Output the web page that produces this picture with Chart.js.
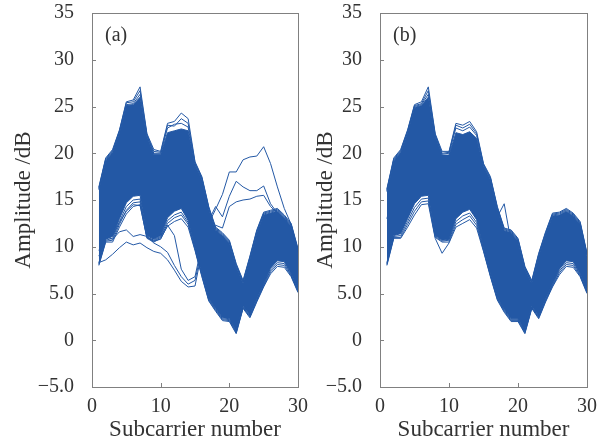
<!DOCTYPE html>
<html>
<head>
<meta charset="utf-8">
<script src="https://cdn.jsdelivr.net/npm/chart.js@4"></script>
<style>
  html, body { margin: 0; padding: 0; background: #fff; }
  #wrap { position: relative; width: 609px; height: 444px; }
  .pane { position: absolute; top: 0; height: 444px; }
  #paneA { left: 0; width: 312px; }
  #paneB { left: 302px; width: 307px; }
</style>
</head>
<body>
<div id="wrap">
  <div class="pane" id="paneA"><canvas id="chartA"></canvas></div>
  <div class="pane" id="paneB"><canvas id="chartB"></canvas></div>
</div>
<script>
var subcarriers = [1,2,3,4,5,6,7,8,9,10,11,12,13,14,15,16,17,18,19,20,21,22,23,24,25,26,27,28,29,30];
var yTicks = [-5, 0, 5, 10, 15, 20, 25, 30, 35];
var xTicks = [0, 10, 20, 30];

// ---- panel (a): filled band edges, edge curves, stray packets ----
var bandTopA    = [16.1,19.2,20.1,22.2,25.1,25.2,26.0,21.8,19.9,19.9,22.2,22.4,22.6,22.4,18.8,17.2,14.0,11.8,11.2,10.4,7.9,6.1,8.7,11.5,13.4,13.6,13.8,13.1,12.2,9.5];
var bandBottomA = [8.3,10.8,11.1,13.0,14.7,15.4,15.5,11.2,10.8,11.2,13.1,13.8,14.1,12.8,9.9,7.1,4.5,3.4,2.4,2.3,1.0,3.6,2.7,4.4,6.0,7.7,8.5,8.4,7.1,5.4];
var topA1 = [16.4,19.5,20.4,22.5,25.5,25.7,27.1,22.1,20.4,20.2,23.2,23.4,24.3,23.7,19.1,17.5,14.3,12.1,11.5,10.7,8.2,6.4,9.0,11.8,13.7,13.9,14.1,13.4,12.5,9.8];
var topA2 = [16.3,19.4,20.3,22.4,25.4,25.5,26.7,22.0,20.2,20.1,23.0,22.9,23.7,23.2,19.0,17.4,14.2,12.0,11.4,10.6,8.1,6.3,8.9,11.7,13.6,13.8,14.0,13.3,12.4,9.7];
var topA3 = [16.2,19.3,20.2,22.3,25.2,25.3,26.3,21.9,20.0,20.0,22.7,23.1,23.2,22.8,18.9,17.3,14.1,11.9,11.3,10.5,8.0,6.2,8.8,11.6,13.5,13.7,13.9,13.2,12.3,9.6];
var lowA1 = [8.0,10.5,10.5,12.1,13.5,14.3,14.5,10.9,10.5,10.9,12.2,12.7,13.0,12.1,9.6,6.8,4.2,3.1,2.1,2.0,0.7,3.4,2.4,4.1,5.7,7.1,7.9,7.8,6.8,5.1];
var lowA2 = [8.1,10.6,10.7,12.4,13.9,14.7,14.8,11.0,10.6,11.0,12.5,13.1,13.4,12.4,9.7,6.9,4.3,3.2,2.2,2.1,0.8,3.5,2.5,4.2,5.8,7.3,8.1,8.0,6.9,5.2];
var lowA3 = [8.2,10.7,10.9,12.7,14.3,15.0,15.1,11.1,10.7,11.1,12.8,13.4,13.7,12.6,9.8,7.0,4.4,3.3,2.3,2.2,0.9,3.5,2.6,4.3,5.9,7.5,8.3,8.2,7.0,5.3];
var outA1 = [8.3,8.6,9.2,9.9,10.5,10.2,10.4,9.9,9.5,9.3,8.6,7.5,6.3,5.7,5.8,9.5,12.5,14.0,15.6,18.0,18.0,19.3,19.6,19.7,20.7,18.9,16.4,14.1,12.4,9.4];
var outA2 = [9.6,11.1,10.8,11.6,11.8,11.1,11.3,11.1,10.4,10.0,9.4,8.0,6.8,6.0,6.4,9.8,12.8,14.3,13.2,15.4,17.0,16.4,16.0,16.0,16.5,14.6,13.6,12.8,11.8,9.1];
var outA3 = [9.0,10.9,11.2,12.6,13.8,14.5,14.4,11.0,10.6,10.8,12.3,11.2,7.6,6.4,6.8,10.2,12.2,12.3,12.0,14.3,14.8,15.0,15.1,15.4,15.5,14.3,13.6,12.9,11.9,9.2];

// ---- panel (b) ----
var bandTopB    = [15.9,19.2,20.1,22.2,24.9,25.1,26.0,21.8,19.8,19.8,22.2,22.0,22.3,21.6,18.6,17.2,14.0,11.7,11.5,10.6,7.6,6.1,9.0,11.3,13.3,13.4,13.8,13.3,12.4,9.0];
var bandBottomB = [8.3,11.2,11.4,13.0,14.6,15.4,15.5,11.2,10.7,10.8,13.0,13.7,14.0,12.9,9.8,7.1,4.6,3.3,2.3,2.3,1.0,3.6,2.6,4.4,6.0,7.6,8.5,8.4,7.1,5.3];
var topB1 = [16.2,19.5,20.4,22.5,25.2,25.5,27.1,22.1,20.2,20.2,23.2,23.0,23.4,22.3,18.9,17.5,14.3,12.0,11.8,10.9,7.9,6.4,9.3,11.6,13.6,13.7,14.1,13.6,12.7,9.3];
var topB2 = [16.1,19.4,20.3,22.4,25.1,25.3,26.7,22.0,20.0,20.1,23.0,22.7,23.1,22.1,18.8,17.4,14.2,11.9,11.7,10.8,7.8,6.3,9.2,11.5,13.5,13.6,14.0,13.5,12.6,9.2];
var topB3 = [16.0,19.3,20.2,22.3,25.0,25.2,26.3,21.9,19.9,20.0,22.7,22.4,22.8,21.9,18.7,17.3,14.1,11.8,11.6,10.7,7.7,6.2,9.1,11.4,13.4,13.5,13.9,13.4,12.5,9.1];
var spikeB = [13.0,16.0,17.0,18.5,20.5,21.0,21.5,18.0,16.5,16.5,18.5,19.0,19.0,18.0,15.5,14.5,13.2,14.6,10.5,9.5,6.0,5.0,6.5,9.0,11.0,11.5,12.0,11.5,10.5,7.5];
var lowB1 = [8.0,10.9,10.9,12.1,13.4,14.5,14.6,10.9,9.3,10.4,12.1,12.5,12.9,12.0,9.5,6.8,4.3,3.0,2.0,2.0,0.7,3.4,2.3,4.1,5.7,7.0,7.9,7.8,6.8,5.0];
var lowB2 = [8.1,11.0,11.0,12.4,13.8,14.8,14.9,11.0,10.5,10.5,12.4,12.9,13.3,12.3,9.6,6.9,4.4,3.1,2.1,2.1,0.8,3.5,2.4,4.2,5.8,7.2,8.1,8.0,6.9,5.1];
var lowB3 = [8.2,11.1,11.2,12.7,14.2,15.1,15.2,11.1,10.6,10.7,12.7,13.3,13.6,12.6,9.7,7.0,4.5,3.2,2.2,2.2,0.9,3.5,2.5,4.3,5.9,7.4,8.3,8.2,7.0,5.2];

var blue = '#2358a5';
var axisColor = '#808080';
var textColor = '#333333';
var serif = '"Liberation Serif", "Times New Roman", serif';

function pts(arr) {
  return arr.map(function (v, i) { return { x: subcarriers[i], y: v }; });
}

function line(arr, fill) {
  return {
    data: pts(arr),
    borderColor: blue,
    backgroundColor: blue,
    borderWidth: 1,
    pointRadius: 0,
    tension: 0,
    fill: fill || false
  };
}

// frame box, inward tick marks and the panel letter
var frameTicks = {
  id: 'frameTicks',
  afterDraw: function (chart, args, opts) {
    var ctx = chart.ctx, a = chart.chartArea;
    var xs = chart.scales.x, ys = chart.scales.y;
    ctx.save();
    ctx.strokeStyle = axisColor;
    ctx.lineWidth = 1;
    ctx.strokeRect(Math.round(a.left) + 0.5, Math.round(a.top) + 0.5,
                   Math.round(a.right - a.left), Math.round(a.bottom - a.top));
    ctx.beginPath();
    yTicks.forEach(function (t) {
      var py = Math.round(ys.getPixelForValue(t)) + 0.5;
      ctx.moveTo(a.left, py); ctx.lineTo(a.left + 4, py);
    });
    xTicks.forEach(function (t) {
      var px = Math.round(xs.getPixelForValue(t)) + 0.5;
      ctx.moveTo(px, a.bottom); ctx.lineTo(px, a.bottom - 4);
    });
    ctx.stroke();
    ctx.fillStyle = textColor;
    ctx.font = '20px ' + serif;
    ctx.textBaseline = 'middle';
    ctx.fillText(opts.label, a.left + 13, a.top + 23);
    ctx.restore();
  }
};

function makeChart(id, datasets, label, yWidth, pad) {
  return new Chart(document.getElementById(id), {
    type: 'line',
    data: { datasets: datasets },
    options: {
      responsive: true,
      maintainAspectRatio: false,
      animation: false,
      layout: { padding: pad },
      plugins: {
        legend: { display: false },
        tooltip: { enabled: false },
        frameTicks: { label: label }
      },
      scales: {
        x: {
          type: 'linear', min: 0, max: 30,
          afterBuildTicks: function (s) { s.ticks = xTicks.map(function (v) { return { value: v }; }); },
          ticks: { font: { family: serif, size: 20 }, color: textColor, padding: 0, maxRotation: 0 },
          grid: { display: false },
          border: { display: false },
          title: { display: true, text: 'Subcarrier number', color: textColor,
                   font: { family: serif, size: 23 }, padding: { top: 0, bottom: 0 } },
          afterFit: function (s) {
            s.height = 57;
            s.paddingLeft = 0; s.paddingRight = 0;
          }
        },
        y: {
          min: -5, max: 35,
          afterBuildTicks: function (s) { s.ticks = yTicks.map(function (v) { return { value: v }; }); },
          ticks: {
            font: { family: serif, size: 20 }, color: textColor, padding: 10,
            callback: function (v) { return v === 5 ? '5.0' : (v === -5 ? '\u22125.0' : String(v)); }
          },
          grid: { display: false },
          border: { display: false },
          title: { display: true, text: 'Amplitude /dB', color: textColor,
                   font: { family: serif, size: 23 }, padding: { top: 10, bottom: 0 } },
          afterFit: function (s) {
            s.width = yWidth;
            s.paddingTop = 0; s.paddingBottom = 0;
          }
        }
      }
    },
    plugins: [frameTicks]
  });
}

makeChart('chartA', [
  line(bandTopA, '+1'), line(bandBottomA),
  line(topA1), line(topA2), line(topA3),
  line(lowA1), line(lowA2), line(lowA3),
  line(outA1), line(outA2), line(outA3)
], '(a)', 92, { left: 0, top: 13, right: 14, bottom: 0 });

makeChart('chartB', [
  line(bandTopB, '+1'), line(bandBottomB),
  line(topB1), line(topB2), line(topB3), line(spikeB),
  line(lowB1), line(lowB2), line(lowB3)
], '(b)', 78, { left: 0, top: 13, right: 22, bottom: 0 });
</script>
</body>
</html>
